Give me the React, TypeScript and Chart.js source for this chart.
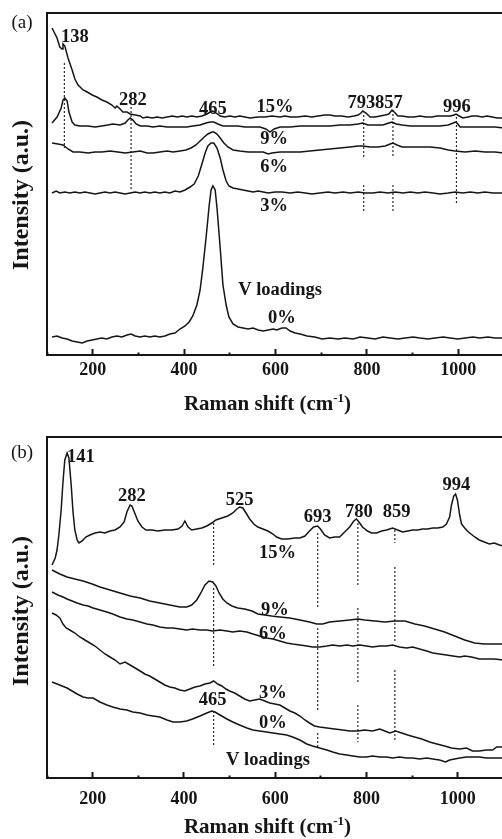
import React, { useEffect, useRef } from 'react';
import { Chart, registerables } from 'chart.js';

Chart.register(...registerables);

// ---------- shared axis data ----------
const X_MIN = 100;
const X_MAX = 1100;
const X_STEP = 100;
const X_LABELED = [200, 400, 600, 800, 1000];

// ---------- panel (a): Raman spectra, [wavenumber, intensity a.u.] ----------
const A_15: [number, number][] = [
  [111, 327], [122, 317], [128, 308], [133, 306], [135, 311], [139, 309], [146, 297], [155, 285], [161, 276], [168, 270],
  [179, 265], [188, 263], [199, 260], [209, 258], [220, 255], [231, 253], [242, 250], [249, 247], [253, 249], [260, 246],
  [266, 243], [275, 243], [282, 241], [293, 240], [304, 239], [310, 237], [319, 238], [330, 237], [341, 238], [352, 237],
  [363, 238], [374, 239], [385, 238], [396, 239], [406, 238], [417, 239], [428, 238], [439, 239], [450, 241], [457, 243],
  [463, 244], [470, 242], [479, 239], [489, 238], [500, 239], [511, 238], [522, 239], [533, 238], [544, 237], [562, 238],
  [577, 238], [592, 239], [610, 238], [621, 239], [632, 238], [647, 238], [665, 239], [680, 238], [693, 239], [708, 240],
  [719, 240], [730, 239], [745, 239], [759, 238], [772, 239], [781, 240], [787, 242], [791, 244], [798, 242], [807, 238],
  [818, 238], [829, 239], [840, 240], [848, 241], [855, 245], [862, 242], [868, 239], [877, 239], [890, 238], [903, 238],
  [916, 239], [929, 238], [942, 238], [954, 239], [971, 239], [982, 239], [991, 240], [995, 241], [1002, 239], [1010, 237],
  [1021, 238], [1030, 239], [1041, 239], [1052, 238], [1063, 239], [1074, 238], [1085, 237], [1100, 237],
];
const A_9: [number, number][] = [
  [111, 232], [122, 238], [131, 247], [135, 255], [139, 257], [144, 254], [148, 243], [155, 233], [161, 230], [172, 229],
  [190, 229], [205, 228], [220, 229], [233, 230], [244, 231], [260, 230], [271, 232], [277, 235], [282, 237], [288, 235],
  [295, 231], [304, 229], [319, 229], [332, 228], [347, 229], [363, 228], [376, 228], [391, 228], [406, 228], [419, 229],
  [435, 230], [448, 232], [457, 233], [465, 233], [474, 231], [485, 229], [500, 229], [518, 229], [533, 228], [549, 228],
  [566, 228], [579, 226], [588, 223], [597, 226], [610, 228], [632, 228], [654, 229], [675, 229], [697, 229], [719, 229],
  [741, 230], [763, 230], [781, 231], [791, 232], [802, 230], [818, 230], [835, 230], [848, 232], [855, 233], [864, 231],
  [877, 230], [895, 229], [916, 229], [938, 229], [960, 229], [978, 230], [989, 232], [995, 233], [1004, 228], [1017, 228],
  [1037, 228], [1058, 228], [1080, 228], [1100, 227],
];
const A_6: [number, number][] = [
  [111, 212], [124, 211], [135, 210], [146, 206], [157, 203], [172, 203], [190, 202], [205, 203], [220, 203], [238, 204],
  [255, 203], [271, 202], [288, 203], [304, 204], [319, 202], [332, 202], [347, 203], [363, 204], [376, 203], [391, 204],
  [404, 205], [415, 207], [426, 210], [435, 214], [444, 218], [452, 221], [461, 223], [465, 223], [472, 221], [479, 217],
  [487, 212], [496, 208], [507, 205], [522, 204], [540, 203], [557, 203], [573, 203], [584, 201], [592, 202], [610, 203],
  [632, 203], [654, 203], [675, 204], [697, 205], [719, 206], [741, 207], [763, 208], [781, 209], [791, 209], [807, 208],
  [824, 208], [840, 209], [851, 211], [857, 212], [866, 210], [877, 208], [895, 208], [916, 208], [938, 208], [960, 207],
  [978, 205], [993, 204], [1015, 203], [1037, 204], [1058, 203], [1080, 203], [1100, 202],
];
const A_3: [number, number][] = [
  [111, 162], [120, 164], [128, 162], [139, 163], [150, 162], [161, 163], [172, 162], [183, 163], [194, 162], [205, 161],
  [216, 162], [227, 163], [238, 162], [249, 163], [260, 162], [271, 161], [282, 162], [293, 163], [304, 162], [314, 163],
  [325, 162], [336, 163], [347, 162], [358, 163], [369, 162], [380, 164], [391, 163], [402, 165], [413, 168], [422, 171],
  [431, 179], [439, 191], [446, 202], [452, 209], [459, 212], [465, 212], [472, 207], [479, 197], [485, 185], [492, 174],
  [498, 169], [507, 167], [518, 166], [529, 165], [540, 164], [551, 163], [562, 164], [573, 163], [584, 162], [599, 163],
  [614, 163], [632, 162], [649, 163], [665, 162], [680, 161], [697, 162], [715, 163], [730, 162], [748, 163], [763, 162],
  [781, 163], [796, 162], [813, 162], [829, 163], [846, 162], [862, 163], [879, 162], [895, 163], [912, 162], [927, 163],
  [945, 162], [960, 161], [978, 162], [993, 163], [1010, 162], [1026, 163], [1043, 162], [1058, 163], [1076, 162], [1100, 162],
];
const A_0: [number, number][] = [
  [111, 18], [122, 19], [133, 17], [144, 16], [155, 14], [166, 13], [177, 12], [188, 14], [199, 15], [209, 16],
  [220, 17], [231, 16], [242, 18], [253, 19], [264, 18], [275, 20], [284, 21], [293, 19], [304, 18], [314, 19],
  [325, 18], [336, 19], [347, 18], [358, 19], [369, 21], [380, 22], [391, 26], [402, 29], [411, 33], [419, 39],
  [428, 50], [435, 65], [441, 87], [448, 117], [455, 150], [459, 165], [463, 169], [468, 165], [472, 147], [479, 107],
  [485, 70], [492, 50], [498, 38], [507, 31], [518, 28], [529, 27], [540, 26], [551, 27], [562, 25], [573, 24],
  [584, 25], [595, 26], [603, 25], [614, 27], [623, 27], [632, 24], [643, 22], [654, 21], [669, 19], [686, 18],
  [702, 16], [719, 17], [737, 16], [752, 17], [770, 16], [785, 18], [802, 17], [818, 16], [835, 18], [851, 17],
  [868, 16], [884, 17], [901, 18], [916, 17], [934, 16], [949, 17], [967, 18], [982, 17], [999, 16], [1015, 17],
  [1032, 18], [1047, 17], [1065, 18], [1080, 17], [1100, 17],
];
// dotted guide lines: [wavenumber, from, to]
const A_DOTS: [number, number, number][] = [
  [138, 292, 207], [284, 248, 165], [793, 240, 198], [793, 170, 143], [857, 245, 198], [857, 170, 143], [996, 238, 152],
];
// annotations: [text, wavenumber, intensity]
const A_LABELS: [string, number, number][] = [
  ['138', 161, 318], ['282', 288, 255], ['465', 463, 246], ['15%', 599, 248], ['793', 788, 252], ['857', 848, 252],
  ['996', 997, 248], ['9%', 597, 216], ['6%', 597, 188], ['3%', 597, 149], ['V loadings', 610, 65], ['0%', 614, 37],
];
const A_Y_MAX = 342;

// ---------- panel (b) ----------
const B_15: [number, number][] = [
  [111, 213], [118, 220], [122, 228], [126, 243], [131, 268], [135, 296], [139, 318], [144, 325], [148, 320], [153, 293],
  [157, 266], [161, 248], [166, 238], [170, 235], [177, 237], [185, 241], [194, 243], [205, 245], [216, 246], [227, 245],
  [238, 247], [249, 248], [260, 251], [269, 256], [275, 266], [282, 273], [286, 272], [293, 264], [299, 257], [308, 251],
  [317, 248], [330, 248], [343, 247], [358, 248], [374, 248], [387, 249], [396, 252], [402, 257], [409, 251], [417, 248],
  [428, 249], [439, 250], [450, 252], [461, 255], [470, 258], [483, 260], [496, 262], [507, 265], [516, 269], [522, 271],
  [529, 270], [536, 265], [544, 259], [553, 254], [562, 251], [573, 249], [584, 247], [595, 244], [603, 241], [614, 239],
  [627, 239], [643, 240], [654, 240], [665, 242], [675, 247], [684, 251], [693, 252], [699, 249], [708, 243], [719, 240],
  [730, 241], [741, 241], [752, 246], [763, 251], [772, 257], [778, 259], [785, 255], [791, 251], [802, 247], [811, 245],
  [822, 245], [833, 247], [844, 248], [857, 250], [868, 248], [879, 246], [890, 247], [901, 248], [912, 248], [923, 249],
  [934, 249], [945, 250], [956, 250], [967, 251], [975, 254], [982, 261], [986, 273], [991, 282], [995, 284], [999, 278],
  [1004, 263], [1008, 254], [1015, 250], [1021, 247], [1026, 245], [1037, 241], [1047, 238], [1058, 236], [1069, 234],
  [1080, 235], [1091, 233], [1100, 232],
];
const B_9: [number, number][] = [
  [111, 208], [128, 204], [144, 201], [161, 199], [179, 197], [199, 194], [216, 191], [238, 188], [260, 185], [282, 182],
  [304, 180], [325, 177], [347, 175], [369, 173], [391, 171], [406, 171], [417, 173], [428, 178], [437, 185], [446, 193],
  [455, 197], [463, 196], [470, 192], [477, 185], [485, 179], [494, 175], [505, 172], [518, 170], [533, 169], [549, 167],
  [562, 164], [577, 163], [592, 162], [610, 161], [632, 160], [654, 158], [675, 156], [691, 154], [704, 154], [719, 156],
  [741, 157], [763, 158], [781, 159], [796, 158], [818, 157], [840, 156], [862, 157], [884, 157], [906, 154], [927, 152],
  [949, 149], [971, 146], [993, 142], [1015, 138], [1037, 135], [1058, 134], [1080, 134], [1100, 134],
];
const B_6: [number, number][] = [
  [111, 186], [124, 183], [135, 181], [144, 179], [155, 177], [166, 175], [179, 173], [190, 172], [201, 170], [216, 168],
  [231, 166], [244, 164], [260, 161], [275, 159], [288, 158], [304, 156], [319, 154], [332, 153], [347, 151], [363, 150],
  [376, 150], [391, 149], [406, 148], [419, 149], [435, 148], [450, 148], [463, 147], [479, 148], [494, 147], [507, 146],
  [522, 147], [538, 146], [551, 144], [566, 142], [581, 140], [595, 139], [610, 137], [625, 135], [638, 134], [654, 133],
  [669, 132], [682, 131], [697, 131], [713, 132], [726, 133], [741, 132], [757, 133], [770, 132], [785, 133], [800, 132],
  [813, 131], [829, 132], [844, 132], [857, 133], [872, 131], [888, 130], [901, 131], [916, 129], [932, 127], [945, 125],
  [960, 124], [975, 123], [989, 122], [1004, 121], [1015, 122], [1030, 121], [1047, 119], [1063, 119], [1080, 119], [1100, 118],
];
const B_3: [number, number][] = [
  [111, 165], [120, 163], [128, 160], [135, 154], [142, 150], [150, 148], [161, 145], [172, 141], [183, 138], [194, 135],
  [205, 132], [216, 128], [227, 124], [238, 121], [249, 118], [260, 114], [271, 116], [282, 113], [293, 110], [304, 107],
  [314, 104], [325, 102], [336, 99], [347, 96], [358, 93], [369, 91], [380, 90], [391, 88], [402, 87], [413, 89],
  [424, 91], [435, 92], [446, 94], [457, 95], [465, 97], [474, 94], [483, 92], [492, 89], [500, 87], [511, 85],
  [522, 82], [533, 79], [544, 77], [555, 78], [566, 79], [577, 77], [588, 75], [599, 74], [610, 73], [621, 70],
  [632, 67], [643, 65], [654, 62], [665, 58], [675, 55], [686, 52], [697, 51], [713, 50], [730, 49], [748, 48],
  [763, 47], [781, 47], [796, 48], [813, 47], [829, 49], [840, 47], [851, 45], [864, 47], [877, 45], [890, 43],
  [905, 41], [921, 39], [938, 36], [954, 34], [971, 32], [986, 30], [1004, 29], [1019, 30], [1032, 27], [1047, 27],
  [1063, 28], [1076, 28], [1085, 31], [1100, 31],
];
const B_0: [number, number][] = [
  [111, 96], [122, 94], [133, 92], [144, 90], [155, 87], [166, 84], [179, 81], [190, 80], [201, 80], [216, 76],
  [231, 73], [244, 71], [260, 69], [275, 68], [288, 66], [304, 65], [319, 63], [332, 62], [347, 61], [363, 58],
  [376, 56], [391, 56], [406, 57], [419, 59], [435, 62], [450, 65], [461, 67], [468, 66], [479, 63], [494, 59],
  [507, 56], [522, 53], [538, 50], [551, 48], [566, 47], [581, 46], [595, 45], [610, 44], [625, 43], [638, 41],
  [654, 38], [669, 34], [682, 32], [697, 30], [713, 28], [726, 26], [741, 24], [757, 23], [770, 22], [785, 21],
  [800, 21], [813, 22], [829, 21], [844, 21], [857, 20], [872, 21], [888, 20], [901, 20], [916, 19], [932, 20],
  [945, 19], [960, 18], [973, 16], [982, 18], [993, 19], [1004, 20], [1019, 21], [1032, 21], [1047, 21], [1063, 20],
  [1080, 20], [1100, 20],
];
const B_DOTS: [number, number, number][] = [
  [465, 255, 213], [465, 190, 111], [465, 67, 33],
  [693, 245, 170], [693, 150, 68], [693, 45, 31],
  [781, 255, 193], [781, 170, 96], [781, 73, 36],
  [862, 248, 235], [862, 211, 135], [862, 108, 36],
];
const B_LABELS: [string, number, number][] = [
  ['141', 174, 321], ['282', 286, 282], ['525', 522, 278], ['693', 693, 261], ['780', 783, 266], ['859', 866, 266],
  ['994', 997, 293], ['15%', 605, 225], ['9%', 599, 168], ['6%', 595, 144], ['3%', 595, 85], ['465', 463, 78],
  ['0%', 595, 55], ['V loadings', 584, 18],
];
const B_Y_MAX = 341;

const X_TITLE = 'Raman shift (cm';
const X_TITLE_SUP = '-1';
const Y_TITLE = 'Intensity (a.u.)';

const SERIF = "'Liberation Serif', 'Times New Roman', 'DejaVu Serif', serif";
const INK = '#161616';

type PanelCfg = {
  tag: string;
  series: [number, number][][];
  dots: [number, number, number][];
  labels: [string, number, number][];
  yMax: number;
  top: number;
  axisH: number;
  tickPad: number;
  tagY: number;
  titleBase: number;
  yTitleY: number;
};

function Panel({ cfg, offsetTop }: { cfg: PanelCfg; offsetTop: number }) {
  const ref = useRef<HTMLCanvasElement | null>(null);
  useEffect(() => {
    const canvas = ref.current;
    if (!canvas) return;
    const textPlugin = {
      id: 'texts',
      afterDraw(chart: any) {
        const ctx = chart.ctx as CanvasRenderingContext2D;
        const { chartArea, scales } = chart;
        ctx.save();
        // frame top & right
        ctx.strokeStyle = INK;
        ctx.lineWidth = 2;
        ctx.beginPath();
        ctx.moveTo(chartArea.left - 1, chartArea.top);
        ctx.lineTo(chartArea.right, chartArea.top);
        ctx.lineTo(chartArea.right, chartArea.bottom);
        ctx.stroke();
        // annotations
        ctx.fillStyle = INK;
        ctx.textAlign = 'center';
        ctx.textBaseline = 'middle';
        ctx.font = `bold 18.5px ${SERIF}`;
        cfg.labels.forEach(([t, x, y]) => {
          ctx.fillText(t, scales.x.getPixelForValue(x), scales.y.getPixelForValue(y));
        });
        // panel tag
        ctx.font = `19px ${SERIF}`;
        ctx.fillText(cfg.tag, 22, cfg.tagY);
        // x title with superscript
        ctx.textBaseline = 'alphabetic';
        ctx.textAlign = 'left';
        const big = `bold 21px ${SERIF}`;
        const small = `bold 13px ${SERIF}`;
        ctx.font = big;
        const w1 = ctx.measureText(X_TITLE).width;
        const w3 = ctx.measureText(')').width;
        ctx.font = small;
        const w2 = ctx.measureText(X_TITLE_SUP).width;
        let sx = 267.5 - (w1 + w2 + w3) / 2;
        ctx.font = big;
        ctx.fillText(X_TITLE, sx, cfg.titleBase);
        sx += w1;
        ctx.font = small;
        ctx.fillText(X_TITLE_SUP, sx, cfg.titleBase - 8);
        sx += w2;
        ctx.font = big;
        ctx.fillText(')', sx, cfg.titleBase);
        // y title
        ctx.save();
        ctx.translate(21.5, cfg.yTitleY);
        ctx.rotate(-Math.PI / 2);
        ctx.textAlign = 'center';
        ctx.textBaseline = 'middle';
        ctx.font = `bold 24px ${SERIF}`;
        ctx.fillText(Y_TITLE, 0, 0);
        ctx.restore();
        ctx.restore();
      },
    };
    const datasets: any[] = [
      ...cfg.series.map((s) => ({
        data: s.map(([x, y]) => ({ x, y })),
        borderColor: INK,
        borderWidth: 1.5,
        pointRadius: 0,
        fill: false,
        tension: 0,
      })),
      ...cfg.dots.map(([x, y1, y2]) => ({
        data: [{ x, y: y1 }, { x, y: y2 }],
        borderColor: '#2a2a2a',
        borderWidth: 1.2,
        borderDash: [2, 2],
        pointRadius: 0,
        fill: false,
      })),
    ];
    const chart = new Chart(canvas, {
      type: 'line',
      data: { datasets },
      options: {
        animation: false,
        responsive: false,
        events: [],
        layout: { padding: { top: cfg.top, left: 0, right: 16, bottom: 0 } },
        plugins: { legend: { display: false }, tooltip: { enabled: false } },
        scales: {
          x: {
            type: 'linear',
            min: X_MIN,
            max: X_MAX,
            ticks: {
              stepSize: X_STEP,
              autoSkip: false,
              maxRotation: 0,
              padding: cfg.tickPad,
              color: INK,
              font: { family: SERIF, size: 18, weight: 'bold' },
              callback: (v: any) => (X_LABELED.includes(Number(v)) ? String(v) : ''),
            },
            grid: {
              display: true,
              drawOnChartArea: false,
              drawTicks: true,
              tickLength: -6,
              tickWidth: 2,
              tickColor: INK,
              tickBorderDash: (c: any) =>
                c.tick && X_LABELED.includes(c.tick.value) ? [] : [3.5, 30],
            },
            border: { display: true, width: 2, color: INK },
            afterFit: (s: any) => {
              s.height = cfg.axisH;
            },
          },
          y: {
            type: 'linear',
            min: 0,
            max: cfg.yMax,
            ticks: { display: false },
            grid: { display: false },
            border: { display: true, width: 2, color: INK },
            afterFit: (s: any) => {
              s.width = 47;
            },
          },
        },
      } as any,
      plugins: [textPlugin],
    });
    return () => chart.destroy();
  }, [cfg]);
  return (
    <canvas
      ref={ref}
      width={520}
      height={420}
      style={{ position: 'absolute', left: 0, top: offsetTop, display: 'block' }}
    />
  );
}

const PANEL_A: PanelCfg = {
  tag: '(a)', series: [A_15, A_9, A_6, A_3, A_0], dots: A_DOTS, labels: A_LABELS, yMax: A_Y_MAX,
  top: 13, axisH: 65, tickPad: 10.5, tagY: 23, titleBase: 410, yTitleY: 195,
};
const PANEL_B: PanelCfg = {
  tag: '(b)', series: [B_15, B_9, B_6, B_3, B_0], dots: B_DOTS, labels: B_LABELS, yMax: B_Y_MAX,
  top: 17, axisH: 62, tickPad: 16.5, tagY: 33, titleBase: 413, yTitleY: 191,
};

export default function App() {
  return (
    <div
      style={{
        position: 'absolute', left: 0, top: 0, width: 502, height: 839,
        overflow: 'hidden', background: '#fff',
      }}
    >
      <Panel cfg={PANEL_A} offsetTop={0} />
      <Panel cfg={PANEL_B} offsetTop={420} />
    </div>
  );
}
